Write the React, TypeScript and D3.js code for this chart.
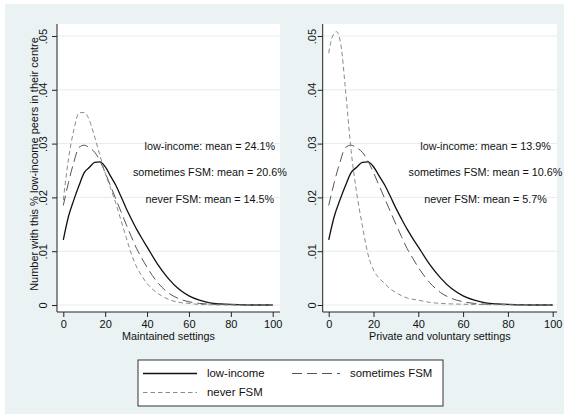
import React, { useEffect, useRef } from 'react';
import * as d3 from 'd3';

const xPoints = [0, 2.5, 5, 7.5, 10, 12.5, 15, 17.5, 20, 22.5, 25, 27.5, 30, 32.5, 35, 37.5, 40, 45, 50, 55, 60, 65, 70, 75, 80, 85, 90, 95, 100];

const lowIncome = [.0121, .0165, .0195, .0222, .0246, .0256, .0265, .0266, .0257, .0240, .0223, .0202, .0180, .0160, .0141, .0124, .0108, .0076, .0050, .0030, .0017, .0009, .0004, .0002, .0001, .00005, 0, 0, 0];
const sometimesFsm = [.0185, .0228, .0265, .0293, .0297, .0292, .0284, .0268, .0246, .0222, .0198, .0174, .0150, .0127, .0105, .0087, .0070, .0042, .0023, .0012, .0006, .0003, .00015, .0001, .00005, 0, 0, 0, 0];
const neverFsmMaintained = [.0195, .0272, .0325, .0357, .0358, .0343, .0312, .0278, .0245, .0218, .0190, .0158, .0126, .0095, .0071, .0054, .0040, .0022, .0011, .0005, .0003, .0001, .00005, 0, 0, 0, 0, 0, 0];

const xPointsPvi = [0, 1.5, 3.5, 5.5, 7.5, 10, 12.5, 15, 17.5, 20, 22.5, 25, 27.5, 30, 35, 40, 45, 50, 55, 60, 65, 70, 75, 80, 85, 90, 95, 100];
const neverFsmPrivate = [.0468, .0497, .0508, .0482, .0400, .0287, .0208, .0148, .0095, .0065, .0050, .0040, .0030, .0023, .0013, .0009, .0005, .0003, .0002, .00015, .0001, .00008, .00005, .00003, 0, 0, 0, 0];

const xTicks = [0, 20, 40, 60, 80, 100];
const yTicks = [0, .01, .02, .03, .04, .05];

const meanLabelsMaintained = ['low-income: mean = 24.1%', 'sometimes FSM: mean = 20.6%', 'never FSM: mean = 14.5%'];
const meanLabelsPrivate = ['low-income: mean = 13.9%', 'sometimes FSM: mean = 10.6%', 'never FSM: mean = 5.7%'];
const meanLabelY = [.0296, .0247, .0197];

const legendLabels = ['low-income', 'sometimes FSM', 'never FSM'];

const FONT = '"Liberation Sans", Arial, sans-serif';
const styles = [
    { stroke: '#111', width: 1.3, dash: null },
    { stroke: '#555', width: 1, dash: '10,5' },
    { stroke: '#8a8a8a', width: 1, dash: '4.5,3' },
];

const panels = [
    {
        title: 'Maintained settings', left: 57, right: 280, x0: 63.3, x1: 272.7, labelOff: 10,
        series: [[xPoints, lowIncome], [xPoints, sometimesFsm], [xPoints, neverFsmMaintained]],
        means: meanLabelsMaintained,
    },
    {
        title: 'Private and voluntary settings', left: 322.7, right: 557, x0: 328.7, x1: 552.7, labelOff: 7,
        series: [[xPoints, lowIncome], [xPoints, sometimesFsm], [xPointsPvi, neverFsmPrivate]],
        means: meanLabelsPrivate,
    },
];

const App = () => {
    const ref = useRef(null);

    useEffect(() => {
        const svg = d3.select(ref.current);
        svg.selectAll('*').remove();

        svg.append('rect').attr('x', 5).attr('y', 4).attr('width', 559).attr('height', 410).attr('fill', '#eaf2f3');

        const top = 24, axisY = 312;
        const y = d3.scaleLinear().domain([0, .05]).range([305, 36]);
        const fmt = d => (d === 0 ? '0' : d3.format('.2f')(d).replace(/^0/, ''));

        panels.forEach(p => {
            const x = d3.scaleLinear().domain([0, 100]).range([p.x0, p.x1]);
            const g = svg.append('g');

            g.append('rect').attr('x', p.left).attr('y', top).attr('width', p.right - p.left)
                .attr('height', axisY - top).attr('fill', '#fff');

            g.selectAll('.grid').data(yTicks).enter().append('line')
                .attr('x1', p.left).attr('x2', p.right)
                .attr('y1', d => y(d)).attr('y2', d => y(d))
                .attr('stroke', '#e3ecee').attr('stroke-width', 1);

            // y axis
            const ya = g.append('g').attr('transform', `translate(${p.left},0)`)
                .call(d3.axisLeft(y).tickValues(yTicks).tickFormat(fmt).tickSize(5).tickSizeOuter(0));
            ya.select('.domain').remove();
            ya.selectAll('line').attr('stroke', '#222');
            ya.selectAll('text').attr('x', null).attr('dy', null)
                .attr('transform', `translate(${-p.labelOff},0) rotate(-90)`)
                .attr('text-anchor', 'middle').attr('font-family', FONT).attr('font-size', 11.2).attr('fill', '#111');
            g.append('line').attr('x1', p.left).attr('x2', p.left).attr('y1', top).attr('y2', axisY)
                .attr('stroke', '#222');

            // x axis
            const xa = g.append('g').attr('transform', `translate(0,${axisY})`)
                .call(d3.axisBottom(x).tickValues(xTicks).tickSize(5).tickSizeOuter(0).tickPadding(3));
            xa.select('.domain').remove();
            xa.selectAll('line').attr('stroke', '#222');
            xa.selectAll('text').attr('font-family', FONT).attr('font-size', 11).attr('fill', '#111');
            g.append('line').attr('x1', p.left).attr('x2', p.right).attr('y1', axisY).attr('y2', axisY)
                .attr('stroke', '#222');

            g.append('text').attr('x', (p.left + p.right) / 2).attr('y', 340)
                .attr('text-anchor', 'middle').attr('font-family', FONT).attr('font-size', 10.8).attr('fill', '#111')
                .text(p.title);

            p.series.forEach(([xs, ys], i) => {
                const line = d3.line().x(d => x(d[0])).y(d => y(d[1])).curve(d3.curveMonotoneX);
                const s = styles[i];
                g.append('path').datum(xs.map((v, k) => [v, ys[k]]))
                    .attr('d', line).attr('fill', 'none')
                    .attr('stroke', s.stroke).attr('stroke-width', s.width)
                    .attr('stroke-dasharray', s.dash);
            });

            g.selectAll('.mean').data(p.means).enter().append('text')
                .attr('x', x(70)).attr('y', (d, i) => y(meanLabelY[i]))
                .attr('dy', '0.35em').attr('text-anchor', 'middle')
                .attr('font-family', FONT).attr('font-size', 10.8).attr('fill', '#111')
                .text(d => d);
        });

        // y title
        svg.append('text').attr('transform', 'translate(37.5,164) rotate(-90)')
            .attr('text-anchor', 'middle').attr('font-family', FONT).attr('font-size', 11).attr('fill', '#111')
            .text('Number with this % low-income peers in their centre');

        // legend
        const lg = svg.append('g');
        lg.append('rect').attr('x', 138).attr('y', 360).attr('width', 305).attr('height', 46)
            .attr('fill', '#fff').attr('stroke', '#333').attr('stroke-width', 1);
        const spots = [[143, 373.5], [292, 373.5], [143, 392.5]];
        legendLabels.forEach((lab, i) => {
            const [sx, sy] = spots[i];
            const s = styles[i];
            lg.append('line').attr('x1', sx).attr('x2', i === 1 ? sx + 48 : sx + 54).attr('y1', sy).attr('y2', sy)
                .attr('stroke', s.stroke).attr('stroke-width', s.width).attr('stroke-dasharray', s.dash);
            lg.append('text').attr('x', i === 1 ? 350 : 207).attr('y', sy).attr('dy', '0.35em')
                .attr('font-family', FONT).attr('font-size', 11.4).attr('fill', '#111').text(lab);
        });
    }, []);

    return (
        <svg ref={ref} width={569} height={418} style={{ position: 'absolute', left: 0, top: 0, background: '#fff' }} />
    );
};

export default App;
